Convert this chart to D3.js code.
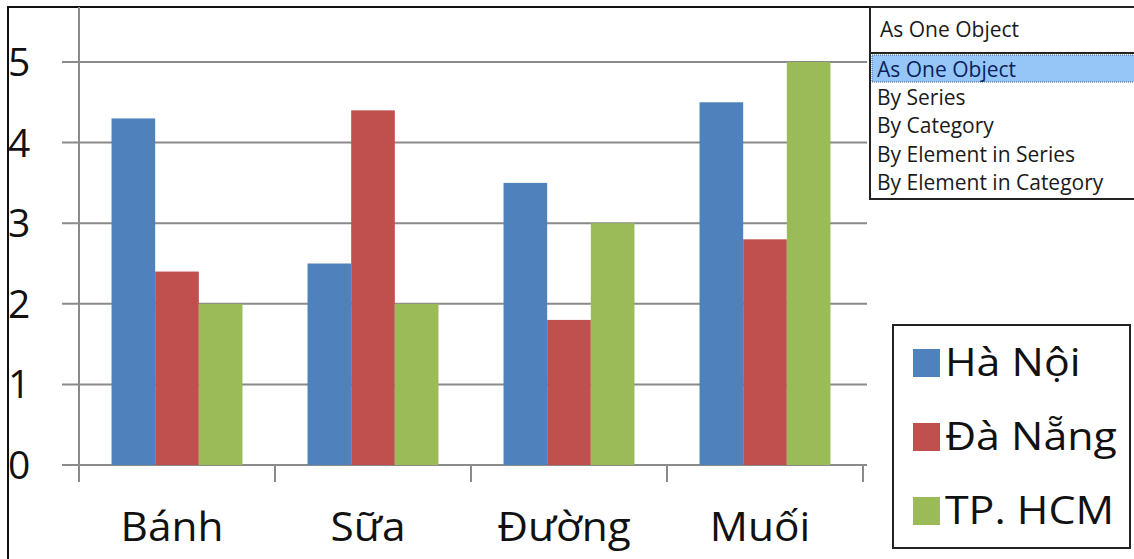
<!DOCTYPE html>
<html>
<head>
<meta charset="utf-8">
<script src="https://cdn.jsdelivr.net/npm/d3@7"></script>
<style>
  html, body { margin: 0; padding: 0; background: #fff; }
  svg { display: block; }
</style>
</head>
<body>
<svg id="chart" width="1134" height="559"></svg>
<script>
const categories = ["Bánh", "Sữa", "Đường", "Muối"];
const seriesNames = ["Hà Nội", "Đà Nẵng", "TP. HCM"];
const haNoi = [4.3, 2.5, 3.5, 4.5];
const daNang = [2.4, 4.4, 1.8, 2.8];
const tpHcm = [2.0, 2.0, 3.0, 5.0];
const seriesColors = ["#4F81BD", "#C0504D", "#9BBB59"];
const yTicks = [0, 1, 2, 3, 4, 5];
const menuItems = ["As One Object", "By Series", "By Category", "By Element in Series", "By Element in Category"];
const menuSelected = "As One Object";

const seriesValues = [haNoi, daNang, tpHcm];

const svg = d3.select("#chart");
const W = 1134, H = 559;

// outer frame
svg.append("rect").attr("x", 8).attr("y", 7).attr("width", W + 20).attr("height", H + 20)
  .attr("fill", "#fff").attr("stroke", "#111").attr("stroke-width", 2);

const plot = { left: 79, right: 863, top: 7, bottom: 465 };

const y = d3.scaleLinear().domain([0, 5]).range([plot.bottom, 62]);
const x0 = d3.scaleBand().domain(categories).range([plot.left, plot.right]).padding(0);
const bw = x0.bandwidth();
const x1 = d3.scaleBand().domain(seriesNames).range([bw * 0.166, bw * 0.834]).padding(0);

const gridColor = "#8a8a8a";

// gridlines
svg.append("g").selectAll("line").data(yTicks).join("line")
  .attr("x1", 62).attr("x2", 867)
  .attr("y1", d => y(d)).attr("y2", d => y(d))
  .attr("stroke", gridColor).attr("stroke-width", 2);

// y axis line
svg.append("line").attr("x1", plot.left).attr("x2", plot.left)
  .attr("y1", plot.top).attr("y2", 482)
  .attr("stroke", gridColor).attr("stroke-width", 2);

// category ticks
const catTicks = categories.map(c => x0(c)).concat([plot.right]);
svg.append("g").selectAll("line").data(catTicks.slice(1)).join("line")
  .attr("x1", d => d).attr("x2", d => d)
  .attr("y1", plot.bottom).attr("y2", 482)
  .attr("stroke", gridColor).attr("stroke-width", 2);

// bars
const groups = svg.append("g").selectAll("g").data(categories).join("g")
  .attr("transform", c => `translate(${x0(c)},0)`);
groups.selectAll("rect").data((c, ci) => seriesNames.map((s, si) => ({ s, si, v: seriesValues[si][ci] })))
  .join("rect")
  .attr("x", d => x1(d.s))
  .attr("width", x1.bandwidth())
  .attr("y", d => y(d.v))
  .attr("height", d => y(0) - y(d.v))
  .attr("fill", d => seriesColors[d.si]);

// y tick labels
svg.append("g").selectAll("text").data(yTicks).join("text")
  .attr("x", 8).attr("y", d => y(d))
  .attr("dy", "0.36em")
  .attr("font-family", "'Open Sans', sans-serif")
  .attr("font-size", 39)
  .attr("fill", "#111")
  .text(d => d);

// category labels
svg.append("g").selectAll("text").data(categories).join("text")
  .attr("transform", c => `translate(${x0(c) + bw / 2 - 5},541) scale(1.06,1)`)
  .attr("text-anchor", "middle")
  .attr("font-family", "'Open Sans', sans-serif")
  .attr("font-size", 40)
  .attr("fill", "#111")
  .text(c => c);

// legend
const lg = svg.append("g");
lg.append("rect").attr("x", 893).attr("y", 325).attr("width", 237).attr("height", 223)
  .attr("fill", "#fff").attr("stroke", "#222").attr("stroke-width", 2);
const legRows = lg.selectAll("g").data(seriesNames).join("g")
  .attr("transform", (d, i) => `translate(913,${349 + i * 74})`);
legRows.append("rect").attr("width", 27).attr("height", 28).attr("fill", (d, i) => seriesColors[i]);
legRows.append("text")
  .attr("transform", "translate(32,27) scale(1.1,1)")
  .attr("font-family", "'Open Sans', sans-serif")
  .attr("font-size", 39)
  .attr("fill", "#111")
  .text(d => d);

// dropdown menu
const dd = svg.append("g");
dd.append("rect").attr("x", 870).attr("y", 7).attr("width", 300).attr("height", 46)
  .attr("fill", "#fff").attr("stroke", "#222").attr("stroke-width", 2);
dd.append("text").attr("x", 880).attr("y", 37)
  .attr("font-family", "'Open Sans', sans-serif").attr("font-size", 21).attr("fill", "#1a1a1a")
  .text(menuSelected);
dd.append("rect").attr("x", 870).attr("y", 53).attr("width", 300).attr("height", 146)
  .attr("fill", "#fff").attr("stroke", "#222").attr("stroke-width", 2);
const rowH = 28.2;
dd.append("rect").attr("x", 872).attr("y", 55).attr("width", 270).attr("height", 27)
  .attr("fill", "#96C6F8").attr("stroke", "#3b5f95").attr("stroke-width", 1).attr("stroke-dasharray", "1,1");
dd.selectAll("text.item").data(menuItems).join("text").attr("class", "item")
  .attr("x", 877).attr("y", (d, i) => 77 + i * rowH)
  .attr("font-family", "'Open Sans', sans-serif").attr("font-size", 21)
  .attr("fill", (d, i) => i === 0 ? "#0b1f5c" : "#1a1a1a")
  .text(d => d);
</script>
</body>
</html>
